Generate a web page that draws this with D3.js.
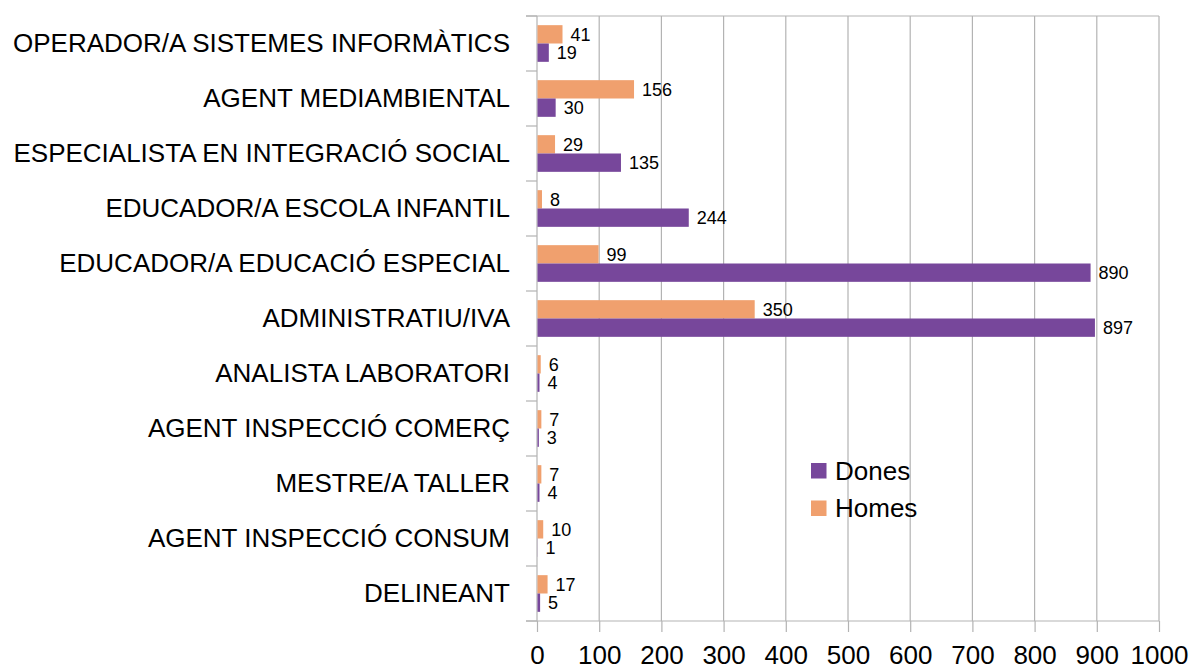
<!DOCTYPE html>
<html>
<head>
<meta charset="utf-8">
<script src="https://cdn.jsdelivr.net/npm/d3@7"></script>
<style>
  html, body { margin: 0; padding: 0; background: #fff; }
  svg { display: block; font-family: "Liberation Sans", Arial, sans-serif; }
</style>
</head>
<body>
<svg id="chart" width="1189" height="666"></svg>
<script>
const categories = [
  "OPERADOR/A SISTEMES INFORMÀTICS",
  "AGENT MEDIAMBIENTAL",
  "ESPECIALISTA EN INTEGRACIÓ SOCIAL",
  "EDUCADOR/A ESCOLA INFANTIL",
  "EDUCADOR/A EDUCACIÓ ESPECIAL",
  "ADMINISTRATIU/IVA",
  "ANALISTA LABORATORI",
  "AGENT INSPECCIÓ COMERÇ",
  "MESTRE/A TALLER",
  "AGENT INSPECCIÓ CONSUM",
  "DELINEANT"
];
const homes = [41, 156, 29, 8, 99, 350, 6, 7, 7, 10, 17];
const dones = [19, 30, 135, 244, 890, 897, 4, 3, 4, 1, 5];
const seriesNames = ["Homes", "Dones"];
const legendOrder = ["Dones", "Homes"];
const xTicks = [0, 100, 200, 300, 400, 500, 600, 700, 800, 900, 1000];

(function () {
const colors = { Dones: "#77479b", Homes: "#f0a06e" };
const grid = "#b3b3b3";

const svg = d3.select("#chart");
const pLeft = 537, pRight = 1159, pTop = 16, pBottom = 621;

const x = d3.scaleLinear().domain([0, 1000]).range([pLeft, pRight]);
const y = d3.scaleBand().domain(categories).range([pTop, pBottom]).paddingInner(0).paddingOuter(0);
const inner = d3.scaleBand().domain(seriesNames).range([0, y.bandwidth()]).paddingInner(0).paddingOuter(0.5);

// vertical gridlines
svg.append("g").selectAll("line").data(xTicks.slice(1)).join("line")
  .attr("x1", d => x(d)).attr("x2", d => x(d))
  .attr("y1", pTop).attr("y2", pBottom)
  .attr("stroke", grid).attr("stroke-width", 1.2);

// top line
svg.append("line").attr("x1", pLeft - 11).attr("x2", pRight).attr("y1", pTop).attr("y2", pTop)
  .attr("stroke", grid).attr("stroke-width", 1.2);

// x axis
const xAxis = svg.append("g").attr("transform", `translate(0,${pBottom})`)
  .call(d3.axisBottom(x).tickValues(xTicks).tickSize(11).tickPadding(10).tickFormat(d3.format("d")));
xAxis.select(".domain").attr("d", `M${pLeft - 11},0H${pRight}`).attr("stroke", grid).attr("stroke-width", 1.2);
xAxis.selectAll(".tick line").attr("stroke", grid).attr("stroke-width", 1.2);
xAxis.selectAll(".tick text").attr("font-size", 26).attr("fill", "#000")
  .attr("font-family", "Liberation Sans, Arial, sans-serif").attr("y", 34).attr("dy", "0.35em");

// y axis
const yAxis = svg.append("g").attr("transform", `translate(${pLeft},0)`)
  .call(d3.axisLeft(y).tickSize(0).tickPadding(27));
yAxis.select(".domain").attr("d", `M0,${pTop}V${pBottom}`).attr("stroke", grid).attr("stroke-width", 1.2);
yAxis.selectAll(".tick text").attr("font-size", 26).attr("fill", "#000")
  .attr("font-family", "Liberation Sans, Arial, sans-serif");
// category boundary ticks
const bounds = d3.range(categories.length + 1).map(i => pTop + i * y.step());
svg.append("g").selectAll("line").data(bounds).join("line")
  .attr("x1", pLeft - 11).attr("x2", pLeft).attr("y1", d => d).attr("y2", d => d)
  .attr("stroke", grid).attr("stroke-width", 1.2);

// bars
const rows = categories.map((c, i) => ({ cat: c, Homes: homes[i], Dones: dones[i] }));
const g = svg.append("g");
rows.forEach(r => {
  seriesNames.forEach(s => {
    const yy = y(r.cat) + inner(s);
    g.append("rect")
      .attr("x", x(0) + 0.5).attr("y", yy)
      .attr("width", Math.max(0, x(r[s]) - x(0) - 0.5)).attr("height", inner.bandwidth())
      .attr("fill", colors[s]);
    g.append("text")
      .attr("x", x(r[s]) + 8).attr("y", yy + inner.bandwidth() / 2)
      .attr("dy", "0.35em").attr("font-size", 18).attr("fill", "#000")
      .text(r[s]);
  });
});

// legend
const lg = svg.append("g").attr("transform", "translate(811,463)");
legendOrder.forEach((s, i) => {
  lg.append("rect").attr("x", 0).attr("y", i * 37.5).attr("width", 15.5).attr("height", 15.5).attr("fill", colors[s]);
  lg.append("text").attr("x", 24).attr("y", i * 37.5 + 7.75).attr("dy", "0.35em")
    .attr("font-size", 26).attr("fill", "#000").text(s);
});
})();
</script>
</body>
</html>
